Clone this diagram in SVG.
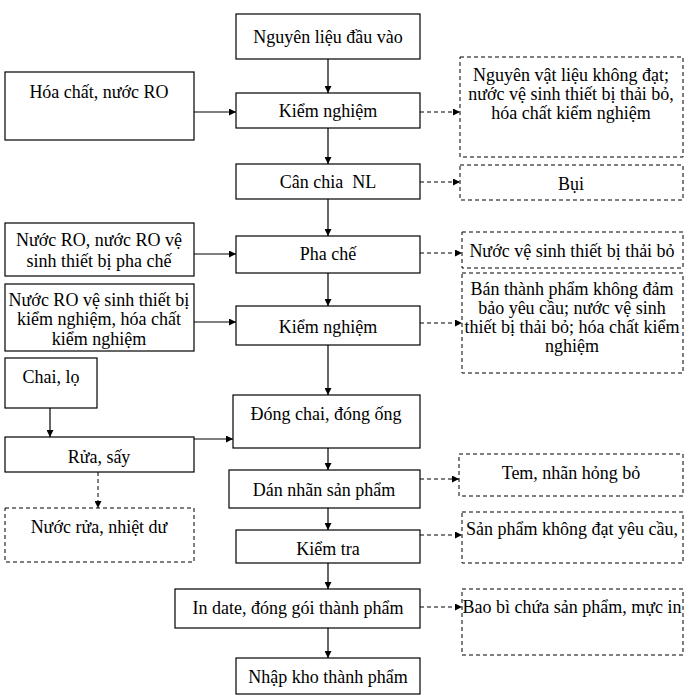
<svg xmlns="http://www.w3.org/2000/svg" width="694" height="700" viewBox="0 0 694 700">
<defs>
<style>
.b{fill:#fff;stroke:#000;stroke-width:1.2}
.d{fill:#fff;stroke:#000;stroke-width:1;stroke-dasharray:4,3}
text{font-family:"Liberation Serif","Times New Roman","DejaVu Serif",serif;font-size:18px;fill:#000;text-anchor:middle}
.s{stroke:#000;stroke-width:1.2;fill:none}
.ds{stroke:#000;stroke-width:1;fill:none;stroke-dasharray:4,3}
</style>
<marker id="a" viewBox="0 0 10 10" refX="10" refY="5" markerWidth="7" markerHeight="7" markerUnits="userSpaceOnUse" orient="auto"><path d="M0,0L10,5L0,10z" fill="#000"/></marker>
</defs>
<rect width="694" height="700" fill="#fff"/>
<g id="connectors">
<path class="s" d="M328,59V93" marker-end="url(#a)"/>
<path class="s" d="M328,128V164" marker-end="url(#a)"/>
<path class="s" d="M328,199V236" marker-end="url(#a)"/>
<path class="s" d="M328,273V306" marker-end="url(#a)"/>
<path class="s" d="M328,345V395" marker-end="url(#a)"/>
<path class="s" d="M328,448V470" marker-end="url(#a)"/>
<path class="s" d="M328,508V530" marker-end="url(#a)"/>
<path class="s" d="M328,563V589" marker-end="url(#a)"/>
<path class="s" d="M328,628V658" marker-end="url(#a)"/>
<path class="s" d="M194,112H236" marker-end="url(#a)"/>
<path class="s" d="M194,254H236" marker-end="url(#a)"/>
<path class="s" d="M194,322H236" marker-end="url(#a)"/>
<path class="s" d="M194,439H233" marker-end="url(#a)"/>
<path class="s" d="M50,408V437" marker-end="url(#a)"/>
<path class="ds" d="M98,472V508" marker-end="url(#a)"/>
<path class="ds" d="M420,112H460" marker-end="url(#a)"/>
<path class="ds" d="M420,182H460" marker-end="url(#a)"/>
<path class="ds" d="M420,253H462" marker-end="url(#a)"/>
<path class="ds" d="M420,323H462" marker-end="url(#a)"/>
<path class="ds" d="M420,479H459" marker-end="url(#a)"/>
<path class="ds" d="M420,535H462" marker-end="url(#a)"/>
<path class="ds" d="M420,607H462" marker-end="url(#a)"/>
</g>
<g id="n1"><rect class="b" x="236" y="14" width="184" height="45"/><text x="328" y="43">Nguyên liệu đầu vào</text></g>
<g id="n2"><rect class="b" x="5" y="72" width="189" height="68"/><text x="99" y="98">Hóa chất, nước RO</text></g>
<g id="n3"><rect class="b" x="236" y="93" width="184" height="35"/><text x="328" y="117">Kiểm nghiệm</text></g>
<g id="n4"><rect class="d" x="460" y="57" width="223" height="100"/><text x="571" y="81">Nguyên vật liệu không đạt;</text><text x="571" y="100">nước vệ sinh thiết bị thải bỏ,</text><text x="571" y="119">hóa chất kiểm nghiệm</text></g>
<g id="n5"><rect class="b" x="236" y="164" width="184" height="35"/><text x="328" y="188" xml:space="preserve">Cân chia  NL</text></g>
<g id="n6"><rect class="d" x="460" y="165" width="223" height="35"/><text x="571" y="190">Bụi</text></g>
<g id="n7"><rect class="b" x="5" y="223" width="189" height="53"/><text x="99" y="246">Nước RO, nước RO vệ</text><text x="99" y="267">sinh thiết bị pha chế</text></g>
<g id="n8"><rect class="b" x="236" y="236" width="184" height="37"/><text x="328" y="260">Pha chế</text></g>
<g id="n9"><rect class="d" x="462" y="232" width="221" height="36"/><text x="572" y="257">Nước vệ sinh thiết bị thải bỏ</text></g>
<g id="n10"><rect class="b" x="5" y="284" width="189" height="67"/><text x="99" y="306">Nước RO vệ sinh thiết bị</text><text x="99" y="325">kiểm nghiệm, hóa chất</text><text x="99" y="345">kiểm nghiệm</text></g>
<g id="n11"><rect class="b" x="236" y="306" width="184" height="39"/><text x="328" y="333">Kiểm nghiệm</text></g>
<g id="n12"><rect class="d" x="462" y="273" width="221" height="100"/><text x="572" y="295">Bán thành phẩm không đảm</text><text x="572" y="314">bảo yêu cầu; nước vệ sinh</text><text x="572" y="333">thiết bị thải bỏ; hóa chất kiểm</text><text x="572" y="352">nghiệm</text></g>
<g id="n13"><rect class="b" x="5" y="358" width="92" height="50"/><text x="51" y="383">Chai, lọ</text></g>
<g id="n14"><rect class="b" x="233" y="395" width="187" height="53"/><text x="326" y="420">Đóng chai, đóng ống</text></g>
<g id="n15"><rect class="b" x="5" y="437" width="189" height="35"/><text x="99" y="463">Rửa, sấy</text></g>
<g id="n16"><rect class="d" x="5" y="508" width="189" height="54"/><text x="99" y="533">Nước rửa, nhiệt dư</text></g>
<g id="n17"><rect class="b" x="229" y="470" width="191" height="38"/><text x="324" y="496">Dán nhãn sản phẩm</text></g>
<g id="n18"><rect class="d" x="459" y="454" width="224" height="42"/><text x="571" y="479">Tem, nhãn hỏng bỏ</text></g>
<g id="n19"><rect class="b" x="236" y="530" width="184" height="33"/><text x="328" y="555">Kiểm tra</text></g>
<g id="n20"><rect class="d" x="462" y="512" width="221" height="51"/><text x="572" y="535">Sản phẩm không đạt yêu cầu,</text></g>
<g id="n21"><rect class="b" x="175" y="589" width="245" height="39"/><text x="298" y="614">In date, đóng gói thành phẩm</text></g>
<g id="n22"><rect class="d" x="462" y="589" width="221" height="66"/><text x="572" y="613">Bao bì chứa sản phẩm, mực in</text></g>
<g id="n23"><rect class="b" x="236" y="658" width="184" height="36"/><text x="328" y="683">Nhập kho thành phẩm</text></g>
</svg>
